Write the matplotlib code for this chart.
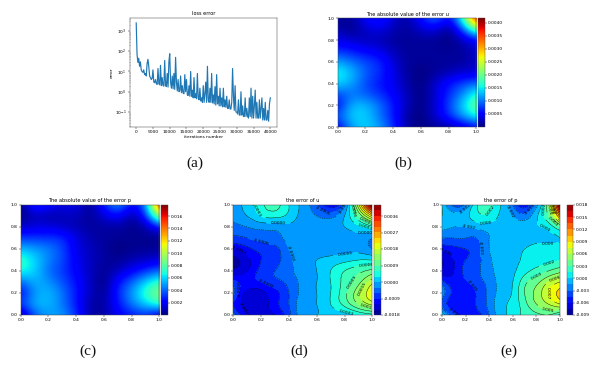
import numpy as np
import matplotlib
matplotlib.use('Agg')
import matplotlib.pyplot as plt
import matplotlib.tri as mtri

W, H = 601, 366

# loss curve, one value every 250 iterations
iterations = list(range(0, 40001, 250))
loss = [2500, 70, 28, 45, 18, 30, 12, 10, 9, 12, 7, 8, 6, 25, 40, 18, 6, 5, 4, 4.5,
        12, 3, 2.8, 4, 2.5, 2.3, 14, 2.5, 2.2, 20, 2.0, 5, 2, 1.9, 35, 2, 1.8, 8, 1.7, 30,
        75, 3, 1.5, 6, 1.4, 8, 1.3, 50, 3, 1.1, 4, 1, 1.1, 6, .9, 2, .85, .8, 7, 1,
        4, .7, .65, 2, .6, 10, .6, 1.2, .5, 5, .5, .8, .45, 8, .5, .4, 1.5, .35, .5, .3,
        2, .3, .8, 3, .3, 18, .4, .3, 1.5, .3, 8, .28, .7, .25, 1.8, .22, 7, .25, .6, .2,
        1.5, .2, .5, .18, 1.5, .18, .4, .17, .6, .15, .15, .4, .14, .14, .3, 14, .6, .12, 2, .1,
        .1, .08, .4, .07, .07, 1, .07, .2, .06, .06, .5, .06, .15, .06, .05, .5, .06, 1.5, .05, .6,
        .05, .2, 1.2, .05, .3, .05, .05, .4, .05, .15, .5, .04, .15, .04, .3, .04, .04, .12, .035, .25,
        .5]

grid_x = np.linspace(0, 1, 11)
grid_y = np.linspace(0, 1, 11)

# signed error of u in units of 1e-4, rows go from y=0 to y=1
err_u = np.array([
    [-4, -12, -14, -12, -7, -1, 0, 1, 1, 3, 5],
    [-9, -14, -14, -10, -6, -1, 0, 3, 7, 12, 16],
    [-5, -13, -13, -10, -6, -2, 0, 3, 8, 14, 21],
    [-8, -10, -9, -7, -5, -2, 0, 3, 7, 11, 17],
    [-14, -12, -8, -6, -4, -1.5, 0, 3, 6, 8, 10],
    [-16, -13, -9, -7, -4, -1, 0, 1, 2, 3, 3],
    [-12, -10, -8, -7, -3, -1, -1, -1, -1, -1, -3],
    [-7, -6, -5, -4, -2, -1, -1, -1, -1, -1, -3],
    [-4, -3, -2, -2, -1, -1, -1, -1, 0, 2, 5],
    [-2, 0, 3, 4, 2, -1, -3, -4, 0, 9, 21],
    [-1, 1, 5, 7, 3, -1, -6, -11, -4, 17, 41],
]) * 1e-4

# signed error of p in units of 1e-3, rows go from y=0 to y=1
err_p = np.array([
    [0, -4, -5, -5, -3, -.5, .5, 2, 2.5, 3, 1],
    [-3.5, -5.5, -5.5, -4.3, -2.5, -.5, .5, 2.5, 4.5, 6, 7.5],
    [-2, -5, -5.6, -4.3, -2.5, -1, .2, 3, 5, 7.5, 9.5],
    [-4, -5.5, -4.8, -3.6, -2.4, -1, 0, 2.5, 4, 6, 7.5],
    [-7, -6, -4, -3.2, -2, -1, -.3, 1, 2, 3, 4],
    [-7.5, -6, -4.5, -3.5, -1.8, -1, -.5, .3, .8, 1, 1.5],
    [-5.5, -5, -4.5, -3.5, -1.5, -1, -.5, 0, .3, .3, .4],
    [-3, -3, -3, -3, -1.5, -.7, -.5, -.4, -.3, -.3, 0],
    [-1, -1.5, -1.5, -1, -.8, -.5, -.5, -.6, -.2, .5, 3],
    [0, -1, -.5, 1, 1, -.3, -1.5, -2.5, -.3, 3, 11],
    [0, -3.5, -2.5, 1.5, 2, 0, -3, -5.5, -2, 4, 17.5],
]) * 1e-3

levels_u = np.arange(-18, 43, 3) * 1e-4
levels_p = np.arange(-9, 18.1, 1.5) * 1e-3
ticks_abs_u = [0.0005, 0.0010, 0.0015, 0.0020, 0.0025, 0.0030, 0.0035, 0.0040]
ticks_abs_p = [0.002, 0.004, 0.006, 0.008, 0.010, 0.012, 0.014, 0.016]
ticks_err_u = [-0.0018, -0.0009, 0.0, 0.0009, 0.0018, 0.0027, 0.0036]
ticks_err_p = [-0.009, -0.006, -0.003, 0.0, 0.003, 0.006, 0.009, 0.012, 0.015, 0.018]

plt.rcParams['font.size'] = 3.2
plt.rcParams['axes.titlesize'] = 3.6
plt.rcParams['axes.linewidth'] = 0.35
plt.rcParams['axes.edgecolor'] = '#444444'
plt.rcParams['xtick.major.width'] = 0.3
plt.rcParams['ytick.major.width'] = 0.3
plt.rcParams['xtick.minor.width'] = 0.2
plt.rcParams['ytick.minor.width'] = 0.2
plt.rcParams['xtick.major.size'] = 1.1
plt.rcParams['ytick.major.size'] = 1.1
plt.rcParams['xtick.minor.size'] = 0.6
plt.rcParams['ytick.minor.size'] = 0.6
plt.rcParams['xtick.major.pad'] = 1
plt.rcParams['ytick.major.pad'] = 1

fig = plt.figure(figsize=(W / 100, H / 100), dpi=100)


# axes from pixel edges, y measured from the top of the image
def px_axes(left, right, top, bottom):
    return fig.add_axes([left / W, 1 - bottom / H, (right - left) / W, (bottom - top) / H])


def unit_ticks(ax):
    ax.set_xlim(0, 1)
    ax.set_ylim(0, 1)
    ax.set_xticks([0, .2, .4, .6, .8, 1])
    ax.set_yticks([0, .2, .4, .6, .8, 1])


def heat_panel(box, cbox, values, vmax, ticks, fmt, title):
    ax = px_axes(*box)
    # half a cell past the edges so the grid values sit right on the frame
    im = ax.imshow(np.abs(values), origin='lower', extent=[-.05, 1.05, -.05, 1.05], aspect='auto',
                   cmap='jet', interpolation='bicubic', vmin=0, vmax=vmax)
    unit_ticks(ax)
    ax.set_title(title, pad=2)
    cax = px_axes(*cbox)
    cb = fig.colorbar(im, cax=cax, ticks=ticks, format=fmt)
    cb.outline.set_linewidth(0.3)


def contour_panel(box, cbox, values, levels, ticks, fmt, title):
    ax = px_axes(*box)
    xx, yy = np.meshgrid(grid_x, grid_y)
    tri = mtri.Triangulation(xx.ravel(), yy.ravel())
    # smooth the contours the way the heat maps are smoothed
    smooth = mtri.UniformTriRefiner(tri)
    tri_fine, z_fine = smooth.refine_field(values.ravel(), subdiv=3)
    z_fine = np.clip(z_fine, levels[0], levels[-1])
    cf = ax.tricontourf(tri_fine, z_fine, levels=levels, cmap='jet')
    cs = ax.tricontour(tri_fine, z_fine, levels=levels, colors='k', linewidths=0.3)
    ax.clabel(cs, fontsize=3.2, fmt=fmt, inline=True)
    unit_ticks(ax)
    ax.set_title(title, pad=2)
    cax = px_axes(*cbox)
    cb = fig.colorbar(cf, cax=cax, ticks=ticks, format=fmt)
    cb.outline.set_linewidth(0.3)


# (a) loss
ax = px_axes(129.5, 277, 18, 127)
ax.plot(iterations, loss, color='C0', linewidth=0.85)
ax.set_yscale('log')
ax.set_xlim(-2000, 42000)
ax.set_ylim(10 ** -1.74, 10 ** 3.64)
ax.set_xticks(range(0, 40001, 5000))
ax.set_title('loss error', pad=2)
ax.set_xlabel('iterations number', labelpad=1)
ax.set_ylabel('error', labelpad=1)

heat_panel((337.7, 476.3, 18.3, 127), (477.7, 485, 18.3, 127), err_u, 0.00417,
           ticks_abs_u, '%.4f', 'The absolute value of the error u')
heat_panel((20.7, 159.3, 205, 315), (160.7, 168, 205, 315), err_p, 0.0178,
           ticks_abs_p, '%.3f', 'The absolute value of the error p')
contour_panel((233.3, 372.3, 205, 315), (374, 381, 205, 315), err_u, levels_u,
              ticks_err_u, '%.4f', 'the error of u')
contour_panel((442, 560, 205, 315), (567, 573, 205, 315), err_p, levels_p,
              ticks_err_p, '%.3f', 'the error of p')

# sub figure captions
for label, cx, cy in [('(a)', 195, 163), ('(b)', 403, 163), ('(c)', 88, 351),
                      ('(d)', 299, 351), ('(e)', 509, 351)]:
    fig.text(cx / W, 1 - cy / H, label, family='Liberation Serif', fontsize=11,
             ha='center', va='center', color='#111111')

fig.savefig('out.png', dpi=100)
